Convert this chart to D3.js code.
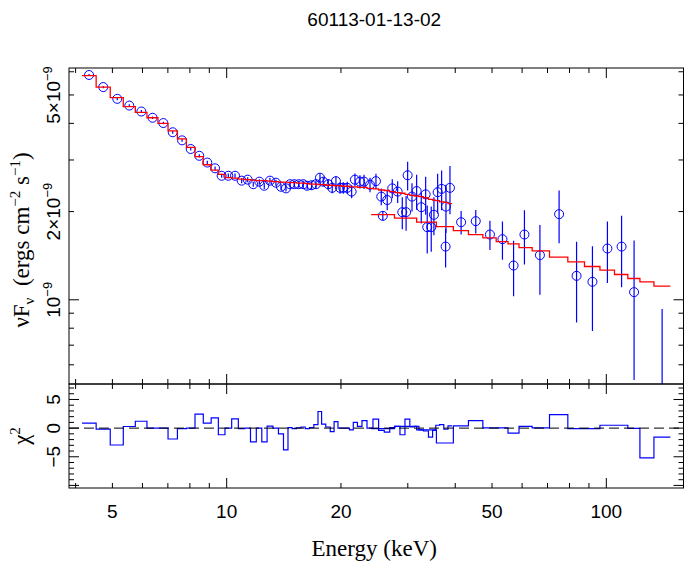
<!DOCTYPE html>
<html><head><meta charset="utf-8">
<script src="https://cdn.jsdelivr.net/npm/d3@7"></script>
<style>body{margin:0;background:#fff}svg{display:block}</style>
</head><body>
<svg id="c" width="685" height="563"></svg>
<script>
// ---- data (flux in units of 1e-9 ergs cm^-2 s^-1, energy in keV) ----
const title = "60113-01-13-02";
const energy1 = [4.34,4.73,5.15,5.54,5.96,6.38,6.81,7.21,7.63,8.04,8.47,8.89,9.32,9.70,10.10,10.52,10.95,11.36,11.75,12.19,12.56,13.00,13.48,13.90,14.33,14.68,15.07,15.48,15.91,16.30,16.74,17.19,17.61,17.96,18.52,18.97,19.40,19.88,20.28,20.78,21.34,21.77,22.44,23.00,23.85,24.73,25.54,26.48,27.30,28.21,29.01,29.97,30.77,31.65,32.55,33.43,34.58,35.15,35.95,36.83,37.81,38.74];
const flux1 = [5.85,5.32,4.85,4.60,4.39,4.18,4.01,3.73,3.50,3.27,3.10,2.94,2.81,2.65,2.65,2.65,2.55,2.57,2.48,2.53,2.45,2.55,2.51,2.43,2.40,2.48,2.48,2.48,2.48,2.45,2.46,2.48,2.61,2.53,2.48,2.41,2.54,2.41,2.41,2.41,2.34,2.57,2.53,2.53,2.47,2.54,2.25,2.19,2.40,2.34,1.99,2.66,2.25,2.35,2.07,2.29,1.77,1.95,2.33,2.39,2.08,2.41];
const err1 = [0.05,0.05,0.05,0.05,0.05,0.04,0.04,0.04,0.04,0.04,0.04,0.04,0.04,0.04,0.05,0.05,0.05,0.05,0.05,0.05,0.06,0.06,0.06,0.06,0.06,0.06,0.07,0.07,0.07,0.07,0.08,0.08,0.09,0.09,0.10,0.10,0.10,0.11,0.11,0.12,0.12,0.13,0.13,0.14,0.14,0.15,0.15,0.17,0.18,0.20,0.25,0.30,0.25,0.32,0.25,0.34,0.31,0.29,0.36,0.37,0.39,0.45];
const model1 = [5.82,5.32,4.90,4.56,4.36,4.18,4.00,3.77,3.54,3.31,3.08,2.89,2.77,2.68,2.61,2.60,2.58,2.57,2.56,2.55,2.55,2.54,2.53,2.52,2.52,2.51,2.51,2.50,2.50,2.49,2.48,2.48,2.47,2.47,2.46,2.46,2.45,2.45,2.44,2.44,2.43,2.43,2.42,2.42,2.40,2.39,2.37,2.36,2.34,2.32,2.31,2.29,2.27,2.26,2.25,2.23,2.20,2.19,2.18,2.16,2.15,2.13];
const resid1 = [0.87,-0.17,-2.95,0.28,1.2,0,0,-1.9,-0.1,0,2.43,0.87,1.8,-1.16,0,1.6,-0.1,0,-2.4,0,-2.4,0.35,0,-1.0,-3.8,0.1,-0.1,0.05,0.2,-0.1,0.1,0.6,2.9,0.7,0.2,-0.6,1.15,0,0,0,-0.3,1.0,0.3,1.3,0,1.56,-0.4,-0.7,0.1,0.3,-1.16,1.56,0.2,0.3,-0.3,-0.5,-1.56,-0.4,0.5,0.6,-0.2,0.4];

const energy2 = [25.78,29.69,33.75,37.73,41.45,45.30,49.37,53.26,56.98,60.86,66.85,75.10,83.49,91.93,100.67,109.70,118.34,127.02,140.29];
const flux2 = [1.934,1.991,1.769,1.519,1.840,1.855,1.670,1.610,1.309,1.670,1.420,1.960,1.207,1.152,1.496,1.519,1.062,-0.08,0.19];
const err2 = [0.07,0.27,0.33,0.23,0.17,0.17,0.19,0.24,0.28,0.35,0.38,0.40,0.37,0.37,0.355,0.415,0.53,0.55,0.74];
const model2 = [1.954,1.899,1.840,1.778,1.723,1.670,1.627,1.580,1.552,1.507,1.469,1.398,1.348,1.299,1.263,1.220,1.182,1.152,1.114];
const resid2 = [-0.1,0.3,-0.3,-2.6,0.4,1.3,0.05,0.05,-0.87,0.3,0.05,2.36,-0.1,-0.1,0.5,0.5,-0.05,-5.2,-1.56];

const xTickLabels = [5,10,20,50,100];
const xMajorTicks = [10,100];
const xMinorTicks = [4,5,6,7,8,9,20,30,40,50,60,70,80,90];
const yTickLabels = [{v:1,m:""},{v:2,m:"2×"},{v:5,m:"5×"}];
const yMajorTicks = [1];
const yMinorTicks = [0.6,0.7,0.8,0.9,2,3,4,5,6];
const rTickLabels = [5,0,-5];
const rMajorTicks = [-10,-5,0,5];
const rMinorTicks = [-9,-8,-7,-6,-4,-3,-2,-1,1,2,3,4,6,7];

// ---- layout ----
const L=69, R=683.5, T1=68, B1=384, T2=384, B2=488;
const BLUE="#0000ff", RED="#ff0000";
const SANS="'Liberation Sans', Arial, Helvetica, sans-serif";
const SERIF="'Liberation Serif', 'Times New Roman', serif";

const svg = d3.select("#c");
const x = d3.scaleLog().domain([3.843,159.7]).range([L,R]);
const y = d3.scaleLog().domain([0.516,6.18]).range([B1,T1]);
const yr = d3.scaleLinear().domain([-10.45,7.7]).range([B2,T2]);

const defs = svg.append("defs");
defs.append("clipPath").attr("id","cp1").append("rect").attr("x",L).attr("y",T1).attr("width",R-L).attr("height",B1-T1);
defs.append("clipPath").attr("id","cp2").append("rect").attr("x",L).attr("y",T2).attr("width",R-L).attr("height",B2-T2);

function edges(E){
  const n=E.length, lo=[], hi=[];
  for(let i=0;i<n;i++){
    lo[i] = i>0 ? Math.sqrt(E[i-1]*E[i]) : E[0]*E[0]/Math.sqrt(E[0]*E[1]);
    hi[i] = i<n-1 ? Math.sqrt(E[i]*E[i+1]) : E[n-1]*E[n-1]/Math.sqrt(E[n-2]*E[n-1]);
  }
  return {lo,hi};
}
function stepPath(E,V,sc){
  const {lo,hi}=edges(E); let d="";
  for(let i=0;i<E.length;i++){
    d += (i===0?"M":"L")+x(lo[i])+","+sc(V[i])+"L"+x(hi[i])+","+sc(V[i]);
  }
  return d;
}
const ySafe = v => y(Math.max(v,0.05));

// ---- top panel ----
const g1 = svg.append("g").attr("clip-path","url(#cp1)");
function drawData(E,F,Er){
  E.forEach((e,i)=>{
    const px = x(e);
    g1.append("line").attr("x1",px).attr("x2",px)
      .attr("y1",ySafe(F[i]-Er[i])).attr("y2",ySafe(F[i]+Er[i]))
      .attr("stroke",BLUE).attr("stroke-width",1.2);
    if(F[i]>0) g1.append("circle").attr("cx",px).attr("cy",y(F[i])).attr("r",4.5)
      .attr("fill","none").attr("stroke",BLUE).attr("stroke-width",1);
  });
}
drawData(energy1,flux1,err1);
drawData(energy2,flux2,err2);
g1.append("path").attr("d",stepPath(energy1,model1,y)).attr("fill","none").attr("stroke",RED).attr("stroke-width",1.3);
g1.append("path").attr("d",stepPath(energy2,model2,y)).attr("fill","none").attr("stroke",RED).attr("stroke-width",1.3);

// ---- bottom panel ----
const g2 = svg.append("g").attr("clip-path","url(#cp2)");
g2.append("path").attr("d",stepPath(energy1,resid1,yr)).attr("fill","none").attr("stroke",BLUE).attr("stroke-width",1.2);
g2.append("path").attr("d",stepPath(energy2,resid2,yr)).attr("fill","none").attr("stroke",BLUE).attr("stroke-width",1.2);
g2.append("line").attr("x1",L).attr("x2",R).attr("y1",yr(0)).attr("y2",yr(0))
  .attr("stroke","#000").attr("stroke-width",1).attr("stroke-dasharray","10,5");

// ---- frames & ticks ----
const ax = svg.append("g").attr("stroke","#000").attr("stroke-width",1);
ax.append("rect").attr("x",L).attr("y",T1).attr("width",R-L).attr("height",B1-T1).attr("fill","none");
ax.append("rect").attr("x",L).attr("y",T2).attr("width",R-L).attr("height",B2-T2).attr("fill","none");
const MAJ=10, MIN=5;
function xt(vals,len){
  vals.forEach(v=>{
    const px=x(v);
    [[T1,1],[B1,-1],[T2,1],[B2,-1]].forEach(([yy,d])=>{
      ax.append("line").attr("x1",px).attr("x2",px).attr("y1",yy).attr("y2",yy+d*len);
    });
  });
}
xt(xMajorTicks,MAJ); xt(xMinorTicks,MIN);
function yt(vals,sc,len){
  vals.forEach(v=>{
    const py=sc(v);
    ax.append("line").attr("x1",L).attr("x2",L+len).attr("y1",py).attr("y2",py);
    ax.append("line").attr("x1",R).attr("x2",R-len).attr("y1",py).attr("y2",py);
  });
}
yt(yMajorTicks,y,MAJ); yt(yMinorTicks,y,MIN);
yt(rMajorTicks,yr,MAJ); yt(rMinorTicks,yr,MIN);

// ---- text ----
svg.append("text").attr("x",(L+R)/2 - 2).attr("y",26).attr("text-anchor","middle")
  .attr("font-family",SANS).attr("font-size",19).text(title);

xTickLabels.forEach(v=>{
  svg.append("text").attr("x",x(v)).attr("y",518).attr("text-anchor","middle")
    .attr("font-family",SANS).attr("font-size",19).text(v);
});

yTickLabels.forEach(o=>{
  const t = svg.append("text").attr("transform",`translate(60,${y(o.v)}) rotate(-90)`)
    .attr("text-anchor","middle").attr("font-family",SANS).attr("font-size",19);
  t.append("tspan").text(o.m+"10");
  t.append("tspan").attr("dy",-8).attr("font-size",13).text("−9");
});
rTickLabels.forEach(v=>{
  svg.append("text").attr("transform",`translate(60,${yr(v)}) rotate(-90)`)
    .attr("text-anchor","middle").attr("font-family",SANS).attr("font-size",19)
    .text(v<0 ? "−"+Math.abs(v) : String(v));
});

// axis titles
const yl = svg.append("text").attr("transform","translate(29,240) rotate(-90)")
  .attr("text-anchor","middle").attr("font-family",SERIF).attr("font-size",23);
yl.append("tspan").text("νF");
yl.append("tspan").attr("dy",5).attr("font-size",15).text("ν");
yl.append("tspan").attr("dy",-5).text("\u00a0 (ergs cm");
yl.append("tspan").attr("dy",-9).attr("font-size",15).text("−2");
yl.append("tspan").attr("dy",9).text(" s");
yl.append("tspan").attr("dy",-9).attr("font-size",15).text("−1");
yl.append("tspan").attr("dy",9).text(")");

const cl = svg.append("text").attr("transform",`translate(29,${(T2+B2)/2}) rotate(-90)`)
  .attr("text-anchor","middle").attr("font-family",SERIF).attr("font-size",23);
cl.append("tspan").text("χ");
cl.append("tspan").attr("dy",-9).attr("font-size",15).text("2");

svg.append("text").attr("x",(L+R)/2 - 2).attr("y",556).attr("text-anchor","middle")
  .attr("font-family",SERIF).attr("font-size",23).text("Energy (keV)");
</script>
</body></html>
